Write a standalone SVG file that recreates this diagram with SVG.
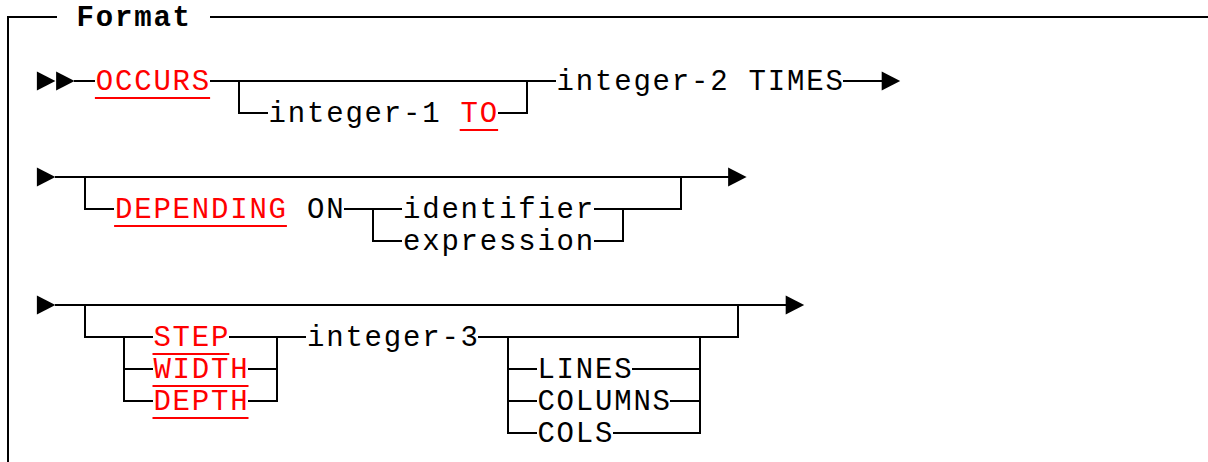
<svg xmlns="http://www.w3.org/2000/svg" width="1208" height="462" viewBox="0 0 1208 462">
  <style>
    .t { font-family: "Liberation Mono", "Courier New", monospace; font-size: 29px; letter-spacing: 1.8px; fill: #000; }
    .kw { fill: #ff0000; }
    .title { font-weight: bold; }
    .ln { fill: none; stroke: #000; stroke-width: 2; stroke-linecap: square; stroke-linejoin: miter; }
    .ul { fill: none; stroke: #ff0000; stroke-width: 2; }
    .arr { fill: #000; }
  </style>
  <defs>
    <!-- one arrowhead cell, 18.5 wide, centred on the line -->
    <path id="head" d="M0,-9.5 L18.5,0 L0,9.5 Z"/>
  </defs>
  <rect width="1208" height="462" fill="#fff"/>

  <!-- frame and all rails/branches on a 19.2 x 32 character grid -->
  <g id="connectors" class="ln">
    <path d="M8,463 V17 H56 M211,17 H1209"/>
    <!-- OCCURS clause -->
    <path d="M75,81 H94 M211,81 H555 M239,81 V113 H267 M499,113 H527 V81 M844,81 H881"/>
    <!-- DEPENDING clause -->
    <path d="M56,177 H728 M85,177 V209 H113 M345,209 H401 M373,209 V241 H401 M595,209 H681 V177 M595,241 H623 V209"/>
    <!-- STEP/WIDTH/DEPTH clause -->
    <path d="M56,305 H785 M85,305 V337 H152 M124,337 V401 H152 M124,369 H152 M230,337 H305 M249,369 H277 M249,401 H277 M277,337 V401"/>
    <path d="M479,337 H738 V305 M508,337 V433 H536 M508,369 H536 M508,401 H536 M633,369 H700 M671,401 H700 M614,433 H700 M700,337 V433"/>
  </g>

  <g id="arrowheads" class="arr">
    <use href="#head" x="36.9" y="81"/>
    <use href="#head" x="56.1" y="81"/>
    <use href="#head" x="881.7" y="81"/>
    <use href="#head" x="36.9" y="177"/>
    <use href="#head" x="728.1" y="177"/>
    <use href="#head" x="36.9" y="305"/>
    <use href="#head" x="785.7" y="305"/>
  </g>

  <g id="title"><text class="t title" x="76.6" y="26.3">Format</text></g>

  <g id="occurs"><text class="t kw" x="95.8" y="90.3">OCCURS</text><path class="ul" d="M94.9,98 H210.1"/></g>
  <g id="integer-1"><text class="t" x="268.6" y="122.3">integer-1</text></g>
  <g id="to"><text class="t kw" x="460.6" y="122.3">TO</text><path class="ul" d="M459.7,130 H498.1"/></g>
  <g id="integer-2-times"><text class="t" x="556.6" y="90.3">integer-2 TIMES</text></g>

  <g id="depending"><text class="t kw" x="115" y="218.3">DEPENDING</text><path class="ul" d="M114.1,226 H286.9"/></g>
  <g id="on"><text class="t" x="307" y="218.3">ON</text></g>
  <g id="identifier"><text class="t" x="403" y="218.3">identifier</text></g>
  <g id="expression"><text class="t" x="403" y="250.3">expression</text></g>

  <g id="step"><text class="t kw" x="153.4" y="346.3">STEP</text><path class="ul" d="M152.5,354 H229.3"/></g>
  <g id="width"><text class="t kw" x="153.4" y="378.3">WIDTH</text><path class="ul" d="M152.5,386 H248.5"/></g>
  <g id="depth"><text class="t kw" x="153.4" y="410.3">DEPTH</text><path class="ul" d="M152.5,418 H248.5"/></g>
  <g id="integer-3"><text class="t" x="307" y="346.3">integer-3</text></g>
  <g id="lines"><text class="t" x="537.4" y="378.3">LINES</text></g>
  <g id="columns"><text class="t" x="537.4" y="410.3">COLUMNS</text></g>
  <g id="cols"><text class="t" x="537.4" y="442.3">COLS</text></g>
</svg>
